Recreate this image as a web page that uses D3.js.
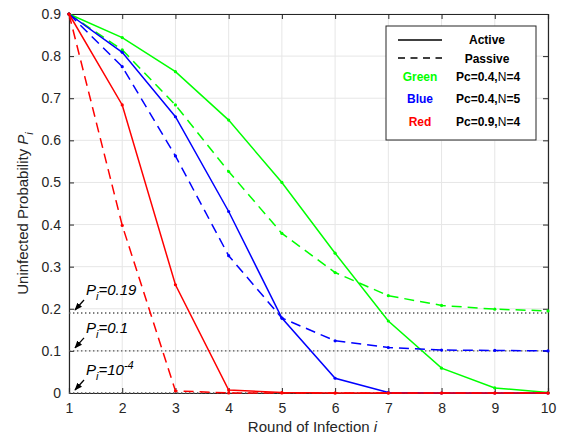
<!DOCTYPE html>
<html><head><meta charset="utf-8">
<script src="https://cdn.jsdelivr.net/npm/d3@7"></script>
<style>body{margin:0;background:#fff}svg{font-family:"Liberation Sans",Arial,sans-serif}</style>
</head><body><svg id="c" width="564" height="438"></svg>
<script>
const rounds = [1,2,3,4,5,6,7,8,9,10];
const greenActive  = [0.9,0.844,0.763,0.648,0.500,0.332,0.171,0.059,0.012,0.001];
const greenPassive = [0.9,0.815,0.684,0.526,0.379,0.286,0.231,0.208,0.199,0.195];
const blueActive   = [0.9,0.809,0.656,0.431,0.178,0.035,0.001,0,0,0];
const bluePassive  = [0.9,0.775,0.563,0.326,0.178,0.124,0.108,0.102,0.101,0.100];
const redActive    = [0.9,0.684,0.257,0.007,0.001,0,0,0,0,0];
const redPassive   = [0.9,0.398,0.005,0.0001,0,0,0,0,0,0];
const xTicks = [1,2,3,4,5,6,7,8,9,10];
const yTicks = [0,0.1,0.2,0.3,0.4,0.5,0.6,0.7,0.8,0.9];
const refLines = [0.19,0.1,0.0001];

const series = [
  {v:greenActive, c:"#00ff00", dash:null},
  {v:greenPassive,c:"#00ff00", dash:"10,6"},
  {v:blueActive,  c:"#0000ff", dash:null},
  {v:bluePassive, c:"#0000ff", dash:"10,6"},
  {v:redActive,   c:"#ff0000", dash:null},
  {v:redPassive,  c:"#ff0000", dash:"10,6"}
];

const L=69,R=548,T=14,B=393;
const svg=d3.select("#c");
const x=d3.scaleLinear().domain([1,10]).range([L,R]);
const y=d3.scaleLinear().domain([0,0.9]).range([B,T]);
const axC="#262626";

// grid
svg.append("g").selectAll("line.gx").data(xTicks).join("line")
  .attr("x1",d=>x(d)).attr("x2",d=>x(d)).attr("y1",T).attr("y2",B)
  .attr("stroke","#e6e6e6").attr("stroke-width",1);
svg.append("g").selectAll("line.gy").data(yTicks).join("line")
  .attr("y1",d=>y(d)).attr("y2",d=>y(d)).attr("x1",L).attr("x2",R)
  .attr("stroke","#e6e6e6").attr("stroke-width",1);

// axes
const fmtY=d=>d===0?"0":d3.format(".1f")(d);
const gx=svg.append("g").attr("transform",`translate(0,${B})`)
  .call(d3.axisBottom(x).tickValues(xTicks).tickSize(-5).tickPadding(10).tickFormat(d3.format("d")));
const gy=svg.append("g").attr("transform",`translate(${L},0)`)
  .call(d3.axisLeft(y).tickValues(yTicks).tickSize(-5).tickPadding(8).tickFormat(fmtY));
const gt=svg.append("g").attr("transform",`translate(0,${T})`)
  .call(d3.axisTop(x).tickValues(xTicks).tickSize(-5).tickFormat(""));
const gr=svg.append("g").attr("transform",`translate(${R},0)`)
  .call(d3.axisRight(y).tickValues(yTicks).tickSize(-5).tickFormat(""));
[gx,gy,gt,gr].forEach(g=>{
  g.selectAll("path").attr("stroke",axC).attr("stroke-width",1.2);
  g.selectAll("line").attr("stroke",axC);
  g.selectAll("text").attr("fill",axC).style("font-size","14px").style("font-family","Liberation Sans, Arial, sans-serif");
});

// reference dotted lines
svg.append("g").selectAll("line").data(refLines).join("line")
  .attr("x1",x(1)).attr("x2",x(10)).attr("y1",d=>y(d)).attr("y2",d=>y(d))
  .attr("stroke","#555").attr("stroke-width",1.4).attr("stroke-dasharray","1.4,2.6");

// lines
const line=d3.line().x((d,i)=>x(rounds[i])).y(d=>y(d));
series.forEach(s=>{
  svg.append("path").datum(s.v).attr("d",line).attr("fill","none")
    .attr("stroke",s.c).attr("stroke-width",1.5)
    .attr("stroke-dasharray",s.dash);
  svg.append("g").selectAll("circle").data(s.v).join("circle")
    .attr("cx",(d,i)=>x(rounds[i])).attr("cy",d=>y(d)).attr("r",1.6).attr("fill",s.c);
});

// annotations
svg.append("defs").append("marker").attr("id","ah").attr("viewBox","0 0 10 10")
  .attr("refX",9).attr("refY",5).attr("markerWidth",6).attr("markerHeight",6).attr("orient","auto")
  .append("path").attr("d","M0,1 L10,5 L0,9 Z").attr("fill","#000");
const ann=[{v:0.19,t:"=0.19",sup:null},{v:0.1,t:"=0.1",sup:null},{v:0.0001,t:"=10",sup:"-4"}];
ann.forEach(a=>{
  const yy=y(a.v);
  svg.append("line").attr("x1",84).attr("y1",yy-13).attr("x2",75).attr("y2",yy-3)
    .attr("stroke","#000").attr("stroke-width",1.3).attr("marker-end","url(#ah)");
  const t=svg.append("text").attr("x",86).attr("y",yy-18).style("font-size","15px").style("font-style","italic").attr("fill","#000");
  t.append("tspan").text("P");
  t.append("tspan").text("i").attr("dy",5).style("font-size","11px");
  t.append("tspan").text(a.t).attr("dy",-5);
  if(a.sup) t.append("tspan").text(a.sup).attr("dy",-6).style("font-size","11px");
});

// axis labels
const xl=svg.append("text").attr("x",x(5.5)+4).attr("y",432).attr("text-anchor","middle")
  .style("font-size","15px").attr("fill",axC);
xl.append("tspan").text("Round of Infection ");
xl.append("tspan").text("i").style("font-style","italic");
const yl=svg.append("text").attr("transform",`translate(28,${(T+B)/2+10}) rotate(-90)`).attr("text-anchor","middle")
  .style("font-size","15px").attr("fill",axC);
yl.append("tspan").text("Uninfected Probability ");
yl.append("tspan").text("P").style("font-style","italic");
yl.append("tspan").text("i").style("font-style","italic").style("font-size","11px").attr("dy",5);

// legend
const lg=svg.append("g");
lg.append("rect").attr("x",386).attr("y",26).attr("width",150).attr("height",114)
  .attr("fill","#fff").attr("stroke",axC).attr("stroke-width",1);
lg.append("line").attr("x1",398).attr("x2",442).attr("y1",40).attr("y2",40).attr("stroke","#000").attr("stroke-width",1.3);
lg.append("line").attr("x1",398).attr("x2",442).attr("y1",58).attr("y2",58).attr("stroke","#000").attr("stroke-width",1.3).attr("stroke-dasharray","7,5.5");
const lt=(tx,xx,yy,col,anchor)=>lg.append("text").attr("x",xx).attr("y",yy).attr("text-anchor",anchor||"middle")
  .style("font-size","12px").style("font-weight","bold").attr("fill",col).text(tx);
lt("Active",487,44,"#000");
lt("Passive",487,63,"#000");
const legItems=[["Green","#00ff00","0.4","4",81],["Blue","#0000ff","0.4","5",103],["Red","#ff0000","0.9","4",126]];
legItems.forEach(it=>{
  lt(it[0],420,it[4],it[1]);
  const t=lg.append("text").attr("x",456).attr("y",it[4]).style("font-size","12px").attr("fill","#000");
  t.append("tspan").text("Pc="+it[2]+",").style("font-weight","bold");
  t.append("tspan").text("N");
  t.append("tspan").text("="+it[3]).style("font-weight","bold");
});
</script></body></html>
